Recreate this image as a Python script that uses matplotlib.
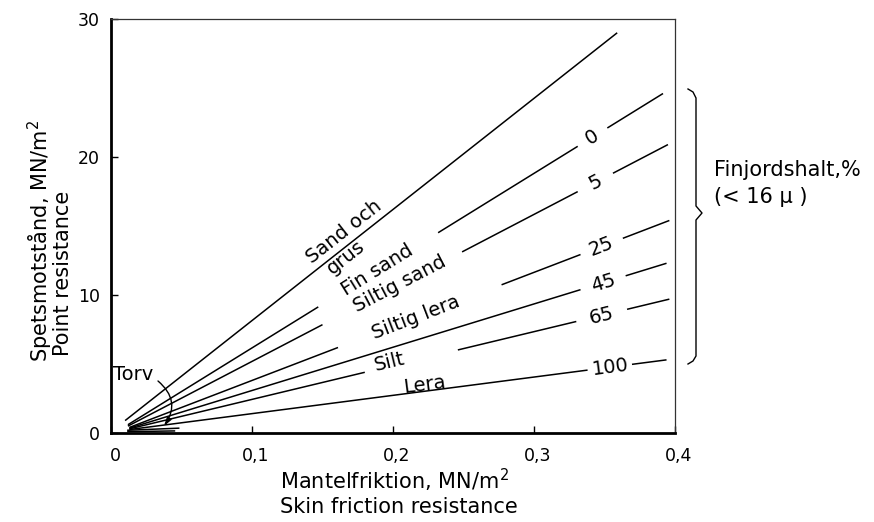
import numpy as np
import matplotlib
matplotlib.use('Agg')
import matplotlib.pyplot as plt
from matplotlib.lines import Line2D
from matplotlib.transforms import ScaledTranslation

# ---------------- data ----------------
line_names = ['Sand och grus', '0', '5', '25', '45', '65', '100']
x_start = [0.010, 0.012, 0.012, 0.013, 0.013, 0.013, 0.013]
y_start = [0.9, 0.6, 0.5, 0.4, 0.35, 0.3, 0.25]
x_end = [0.359, 0.3915, 0.395, 0.396, 0.394, 0.396, 0.394]
y_end = [29.0, 24.6, 20.9, 15.4, 12.3, 9.7, 5.3]

torv_x_start = [0.012, 0.012]
torv_y_start = [0.2, 0.1]
torv_x_end = [0.048, 0.045]
torv_y_end = [0.35, 0.15]

x_ticks = [0, 0.1, 0.2, 0.3, 0.4]
x_tick_labels = ['0', '0,1', '0,2', '0,3', '0,4']
y_ticks = [0, 10, 20, 30]
y_tick_labels = ['0', '10', '20', '30']

# ---------------- layout ----------------
W, H = 874, 522
fig = plt.figure(figsize=(W / 100, H / 100), dpi=100)
ax_l, ax_r, ax_t, ax_b = 111, 675, 19, 433
ax = fig.add_axes([ax_l / W, 1 - ax_b / H, (ax_r - ax_l) / W, (ax_b - ax_t) / H])
ax.set_xlim(0, 0.4)
ax.set_ylim(0, 30)

FS = 14      # in-plot labels
FSA = 15     # axis labels / side note
for s in ['left', 'bottom']:
    ax.spines[s].set_linewidth(2.0)
for s in ['top', 'right']:
    ax.spines[s].set_linewidth(0.9)
    ax.spines[s].set_color('#333333')

ax.set_xticks(x_ticks)
ax.set_xticklabels(x_tick_labels, fontsize=12.5)
ax.set_yticks(y_ticks)
ax.set_yticklabels(y_tick_labels, fontsize=12.5)
ax.tick_params(axis='both', direction='in', length=5, width=1.0)
ax.tick_params(axis='x', pad=10)
ax.tick_params(axis='y', pad=8)
for lab in ax.get_xticklabels():
    lab.set_transform(lab.get_transform() + ScaledTranslation(4 / 100, 0, fig.dpi_scale_trans))

gaps = {
    1: [(0.147, 0.232), (0.331, 0.352)],
    2: [(0.150, 0.249), (0.331, 0.356)],
    3: [(0.161, 0.277), (0.333, 0.363)],
    4: [(0.333, 0.365)],
    5: [(0.180, 0.246), (0.330, 0.366)],
    6: [(0.338, 0.3695)],
}

def y_on(i, x):
    return y_start[i] + (x - x_start[i]) * (y_end[i] - y_start[i]) / (x_end[i] - x_start[i])

LW = 1.1
for i in range(len(line_names)):
    bps = [x_start[i]]
    for a, b in gaps.get(i, []):
        bps += [a, b]
    bps.append(x_end[i])
    for k in range(0, len(bps), 2):
        xs = [bps[k], bps[k + 1]]
        ax.plot(xs, [y_on(i, v) for v in xs], color='black', lw=LW, solid_capstyle='butt')

for i in range(len(torv_x_start)):
    ax.plot([torv_x_start[i], torv_x_end[i]], [torv_y_start[i], torv_y_end[i]],
            color='black', lw=LW)

def angle(i):
    p1 = ax.transData.transform((x_start[i], y_start[i]))
    p2 = ax.transData.transform((x_end[i], y_end[i]))
    return np.degrees(np.arctan2(p2[1] - p1[1], p2[0] - p1[0]))

labels = [
    ('Sand och', 0, 0.171, 13),
    ('grus', 0, 0.163, -8),
    ('Fin sand', 1, 0.189, 0),
    ('Siltig sand', 2, 0.205, 0),
    ('Siltig lera', 3, 0.216, 0),
    ('Silt', 5, 0.198, 4),
    ('Lera', 6, 0.223, 6),
    ('0', 1, 0.341, 0),
    ('5', 2, 0.3435, 0),
    ('25', 3, 0.348, 0),
    ('45', 4, 0.349, 0),
    ('65', 5, 0.348, 0),
    ('100', 6, 0.354, 0),
]
for s, i, x, d in labels:
    a = angle(i)
    ar = np.radians(a)
    ax.annotate(s, xy=(x, y_on(i, x)), xytext=(-np.sin(ar) * d, np.cos(ar) * d),
                textcoords='offset pixels', rotation=a, ha='center', va='center',
                rotation_mode='anchor', fontsize=FS)

# Torv annotation
def px2data(px, py):
    return ((px - ax_l) / (ax_r - ax_l) * 0.4, (ax_b - py) / (ax_b - ax_t) * 30)

ax.text(*px2data(133, 375), 'Torv', ha='center', va='center', fontsize=FS)
ax.annotate('', xy=px2data(164, 426), xytext=px2data(158, 381),
            arrowprops=dict(arrowstyle='-|>,head_length=0.5,head_width=0.15',
                            connectionstyle='arc3,rad=-0.45', color='black', lw=1.0,
                            shrinkA=0, shrinkB=0))

# brace
bx = [688, 693, 696, 696, 702, 696, 696, 693, 688]
by = [89, 92, 98, 206, 213, 220, 356, 361, 364]
fig.add_artist(Line2D([v / W for v in bx], [1 - v / H for v in by],
                      transform=fig.transFigure, color='black', lw=1.0))
fig.text(714 / W, 1 - 170 / H, 'Finjordshalt,%', fontsize=FSA, ha='left', va='center')
fig.text(714 / W, 1 - 197 / H, '(< 16 μ )', fontsize=FSA, ha='left', va='center')

# axis labels
fig.text(40 / W, 1 - 362 / H, 'Spetsmotstånd, MN/m$^2$', rotation=90, fontsize=FSA,
         ha='center', va='bottom')
fig.text(63 / W, 1 - 356 / H, 'Point resistance', rotation=90, fontsize=FSA,
         ha='center', va='bottom')
fig.text(280 / W, 1 - 480 / H, 'Mantelfriktion, MN/m$^2$', fontsize=FSA, ha='left', va='center')
fig.text(280 / W, 1 - 507 / H, 'Skin friction resistance', fontsize=FSA, ha='left', va='center')

fig.savefig('out.png', dpi=100)
